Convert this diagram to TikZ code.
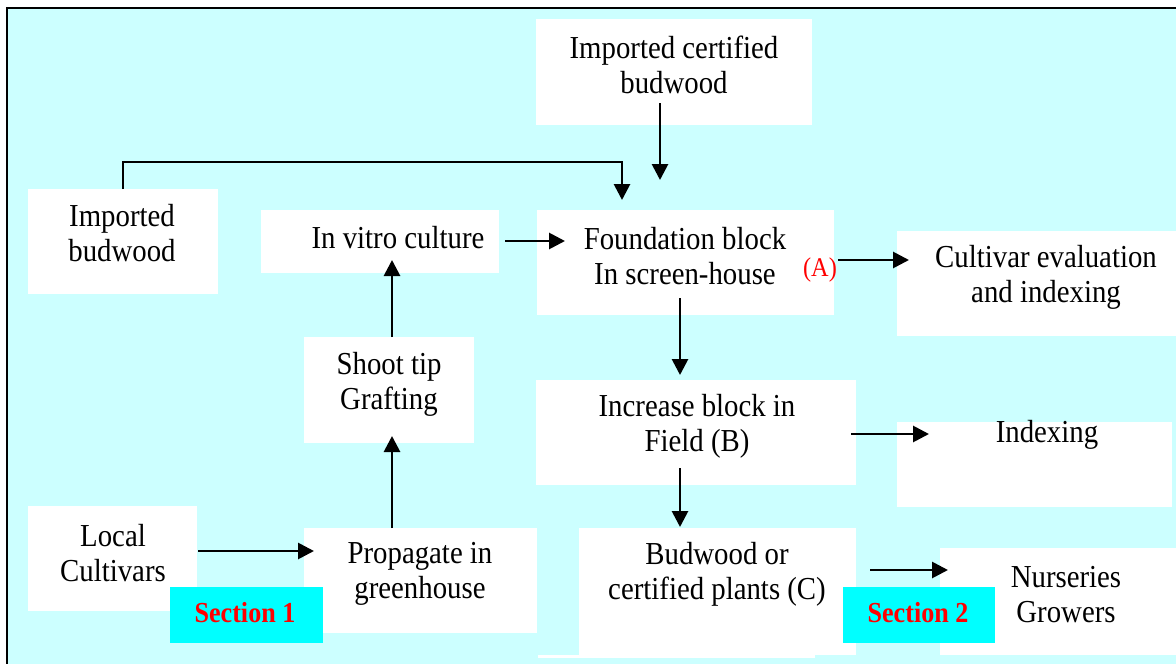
\documentclass[tikz,border=0pt]{standalone}
\usepackage{fontspec}
\setmainfont{Liberation Serif}[FakeStretch=0.9]
\usetikzlibrary{arrows.meta,calc}
\definecolor{bgcyan}{HTML}{CCFFFF}
\definecolor{seccyan}{HTML}{00FFFF}
\definecolor{secred}{HTML}{FF0000}
\tikzset{
  box/.style={fill=white, draw=none, inner sep=0pt, outer sep=0pt},
  secbox/.style={fill=seccyan, draw=none, inner sep=0pt, outer sep=0pt},
  txt/.style={align=center, inner sep=0pt, font=\fontsize{32}{35}\selectfont},
  sectxt/.style={inner sep=0pt, text=secred, font=\fontsize{29}{35}\selectfont\bfseries},
  arr/.style={line width=2.8pt, -{Triangle[length=16pt,width=16pt]}},
}
\begin{document}
\begin{tikzpicture}[x=1pt,y=-1pt]
\useasboundingbox (0,0) rectangle (1176,664);
\fill[white] (0,0) rectangle (1176,664);
\fill[bgcyan] (7,8) rectangle (1176,664);
\draw[line width=2pt] (7,664) -- (7,8) -- (1176,8);
% thin white strip below the budwood box
\fill[white] (538,655) rectangle (815,658);
% boxes
\node[box, minimum width=276, minimum height=106] (icb) at (674,72) {};
\node[box, minimum width=190, minimum height=105] (ib) at (123,241.5) {};
\node[box, minimum width=238, minimum height=63] (iv) at (380,241.5) {};
\node[box, minimum width=297, minimum height=105] (fb) at (685.5,262.5) {};
\node[box, minimum width=279, minimum height=105] (ce) at (1036.5,283.5) {};
\node[box, minimum width=170, minimum height=106] (st) at (389,390) {};
\node[box, minimum width=320, minimum height=105] (inc) at (696,432.5) {};
\node[box, minimum width=275, minimum height=85] (idx) at (1034.5,464.5) {};
\node[box, minimum width=169, minimum height=105] (lc) at (112.5,558.5) {};
\node[box, minimum width=233, minimum height=105] (pg) at (420.5,580.5) {};
\node[box, minimum width=277, minimum height=127] (bw) at (717.5,591.5) {};
\node[box, minimum width=236, minimum height=107] (ng) at (1058,601.5) {};
\node[secbox, minimum width=153, minimum height=56] (s1) at (246.5,615) {};
\node[secbox, minimum width=152, minimum height=56] (s2) at (919,615) {};
% texts
\node[txt] (icbt) at (674,65) {Imported certified\\budwood};
\node[txt] (ibt) at (122,233) {Imported\\budwood};
\node[txt] (ivt) at (398,238) {In vitro culture};
\node[txt] (fbt) at (685,256) {Foundation block\\In screen-house};
\node[inner sep=0pt, text=secred, font=\fontsize{27}{30}\selectfont] (at) at (820,270) {(A)};
\node[txt] (cet) at (1046,277) {Cultivar evaluation\\and indexing};
\node[txt] (stt) at (389,384) {Shoot tip\\Grafting};
\node[txt] (inct) at (697,426) {Increase block in\\Field (B)};
\node[txt] (idxt) at (1047,435) {Indexing};
\node[txt] (lct) at (113,553) {Local\\Cultivars};
\node[txt] (pgt) at (420,574) {Propagate in\\greenhouse};
\node[txt] (bwt) at (717,574) {Budwood or\\certified plants (C)};
\node[txt] (ngt) at (1066,595) {Nurseries\\Growers};
\node[sectxt] (s1t) at (245,613) {Section 1};
\node[sectxt] (s2t) at (918,613) {Section 2};
% connectors
\draw[arr] (ib.north) -- ++(0,-27) -| ($(fb.north west)+(85,-10)$);
\draw[arr] ($(icb.south)+(-14,-22)$) -- ($(fb.north)+(-25.5,-30)$);
\draw[arr] ($(iv.east)+(6,-0.5)$) -- ($(fb.west)+(28,-21.5)$);
\draw[arr] ($(fb.east)+(4,-2.5)$) -- ($(ce.west)+(12,-23.5)$);
\draw[arr] ($(fb.south)+(-5.5,-17)$) -- ($(inc.north)+(-16,-5)$);
\draw[arr] ($(st.north)+(3,0)$) -- ($(iv.south)+(12,-13)$);
\draw[arr] ($(pg.north)+(-28.5,0)$) -- ($(st.south)+(3,-7)$);
\draw[arr] ($(lc.east)+(1,-7.5)$) -- ($(pg.west)+(10,-29.5)$);
\draw[arr] ($(inc.east)+(-5,1.5)$) -- ($(idx.west)+(32,-30.5)$);
\draw[arr] ($(inc.south)+(-16,-17)$) -- ($(bw.north)+(-37.5,-1)$);
\draw[arr] ($(bw.east)+(14,-21.5)$) -- ($(ng.west)+(8,-31.5)$);
\end{tikzpicture}
\end{document}
